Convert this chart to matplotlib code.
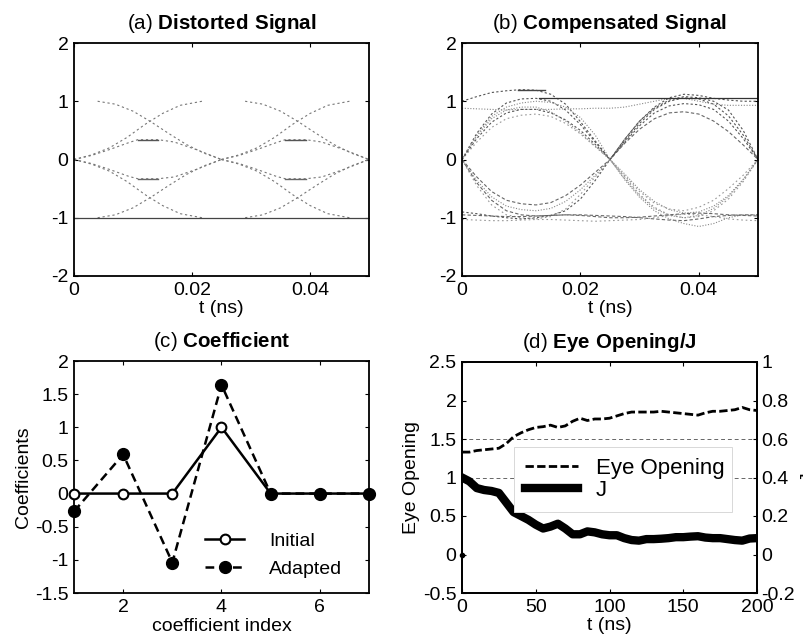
import matplotlib
matplotlib.use("Agg")
import matplotlib.pyplot as plt

plt.rcParams['font.family'] = ['Liberation Sans', 'DejaVu Sans']
plt.rcParams['mathtext.fontset'] = 'custom'
plt.rcParams['mathtext.rm'] = 'Liberation Sans'
plt.rcParams['mathtext.bf'] = 'Liberation Sans:bold'
plt.rcParams['axes.unicode_minus'] = False

# ---------------- data ----------------
# (a) distorted signal: half-period traces (repeated each symbol period)
a_period = 0.025
a_fall_t = [0.004, 0.007, 0.010, 0.013, 0.016, 0.019, 0.022, 0.025]
a_fall_hi = [1.0, 0.95, 0.83, 0.65, 0.45, 0.26, 0.11, 0.0]
a_fall_lo = [-1.0, -0.95, -0.83, -0.65, -0.45, -0.26, -0.11, 0.0]
a_rise_t = [0.0, 0.003, 0.006, 0.009, 0.012, 0.015, 0.018, 0.0217]
a_rise_hi = [0.0, 0.08, 0.20, 0.38, 0.60, 0.79, 0.93, 1.0]
a_rise_lo = [0.0, -0.08, -0.20, -0.38, -0.60, -0.79, -0.93, -1.0]
a_mid_t = [0.0, 0.003, 0.006, 0.0093, 0.0108, 0.0143, 0.017, 0.021, 0.025]
a_mid_hi = [0.0, 0.07, 0.17, 0.29, 0.34, 0.34, 0.30, 0.16, 0.0]
a_mid_lo = [0.0, -0.07, -0.17, -0.29, -0.33, -0.33, -0.30, -0.16, 0.0]
a_dash_t = [0.0108, 0.0143]
a_dash_hi = [0.34, 0.34]
a_dash_lo = [-0.33, -0.33]
a_base_t = [0.0, 0.05]
a_base_y = [-1.0, -1.0]

# (b) compensated signal traces on a common time grid
b_t = [0.0, 0.0025, 0.005, 0.0075, 0.01, 0.0125, 0.015, 0.0175, 0.02, 0.0225,
       0.025, 0.0275, 0.03, 0.0325, 0.035, 0.0375, 0.04, 0.0425, 0.045, 0.0475, 0.05]
b_traces = [
    [0, .45, .78, .97, 1.04, 1.05, 1.0, .85, .6, .3, 0, .32, .62, .86, 1.0, 1.06, 1.04, .95, .75, .42, 0],
    [0, .40, .70, .85, .90, .90, .82, .66, .46, .23, 0, -.25, -.52, -.72, -.86, -.92, -.90, -.80, -.62, -.34, 0],
    [0, -.30, -.55, -.70, -.76, -.78, -.74, -.62, -.44, -.22, 0, .28, .52, .70, .80, .82, .78, .66, .48, .25, 0],
    [0, -.45, -.78, -.95, -1.0, -1.02, -.98, -.85, -.60, -.30, 0, -.30, -.60, -.82, -.95, -1.0, -.98, -.88, -.68, -.38, 0],
    [1.0, 1.08, 1.15, 1.18, 1.2, 1.19, 1.12, .95, .65, .32, 0, .35, .66, .90, 1.06, 1.12, 1.10, 1.05, 1.02, 1.0, 1.0],
    [.88, .87, .86, .85, .86, .86, .86, .87, .87, .88, .88, .90, .95, 1.0, 1.05, 1.05, 1.0, .95, .93, .93, .93],
    [-.95, -.96, -.97, -.98, -.98, -.97, -.96, -.95, -.95, -.96, -.97, -.98, -1.0, -1.02, -1.04, -1.05, -1.02, -.98, -.96, -.95, -.95],
    [-1.03, -1.04, -1.05, -1.05, -1.04, -1.03, -1.03, -1.04, -1.05, -1.06, -1.05, -1.04, -1.03, -1.0, -.96, -.94, -.95, -.98, -1.02, -1.04, -1.05],
    [-.90, -.93, -.97, -1.0, -1.02, -1.0, -.96, -.88, -.68, -.36, 0, .35, .66, .88, 1.02, 1.08, 1.06, 1.0, .85, .50, 0],
    [0, .42, .74, .90, .97, 1.0, .98, .90, .72, .42, 0, -.35, -.65, -.88, -1.02, -1.10, -1.15, -1.10, -1.0, -.95, -.95],
    [0, -.40, -.70, -.88, -.95, -.97, -.96, -.95, -.96, -.98, -1.0, -1.0, -.99, -.97, -.95, -.93, -.92, -.93, -.95, -.96, -.97],
    [0, .30, .55, .70, .76, .78, .74, .62, .44, .22, 0, -.28, -.55, -.75, -.85, -.88, -.82, -.70, -.50, -.27, 0],
    [0, .36, .64, .80, .86, .86, .80, .68, .50, .26, 0, .30, .58, .80, .92, .96, .94, .86, .66, .36, 0],
    [0, -.36, -.64, -.80, -.86, -.88, -.84, -.72, -.52, -.27, 0, -.33, -.62, -.84, -.96, -1.0, -.96, -.84, -.64, -.35, 0],
]
b_solid_t = [0.013, 0.05]
b_solid_y = [1.05, 1.05]
b_dash_t = [0.0095, 0.014]
b_dash_y = [1.2, 1.2]

# (c) coefficients
c_index = [1, 2, 3, 4, 5, 6, 7]
c_initial = [0, 0, 0, 1, 0, 0, 0]
c_adapted = [-0.27, 0.59, -1.04, 1.64, 0, 0, 0]

# (d) eye opening / J
d_t = [0, 5, 10, 15, 20, 25, 30, 35, 40, 45, 50, 55, 60, 65, 70, 75, 80, 85, 90, 95, 100,
       105, 110, 115, 120, 125, 130, 135, 140, 145, 150, 155, 160, 165, 170, 175, 180,
       185, 190, 195, 200]
d_eye = [1.33, 1.33, 1.35, 1.36, 1.37, 1.38, 1.44, 1.53, 1.58, 1.62, 1.65, 1.66, 1.68,
         1.65, 1.67, 1.73, 1.77, 1.74, 1.76, 1.76, 1.77, 1.80, 1.83, 1.85, 1.85, 1.85,
         1.85, 1.86, 1.85, 1.84, 1.83, 1.82, 1.81, 1.84, 1.86, 1.86, 1.87, 1.88, 1.91,
         1.88, 1.87]
d_J = [0.40, 0.38, 0.345, 0.335, 0.33, 0.32, 0.27, 0.22, 0.20, 0.18, 0.155, 0.135, 0.145,
       0.16, 0.135, 0.105, 0.105, 0.12, 0.115, 0.105, 0.10, 0.10, 0.085, 0.075, 0.072,
       0.08, 0.08, 0.082, 0.085, 0.09, 0.09, 0.093, 0.095, 0.088, 0.085, 0.085, 0.08,
       0.075, 0.072, 0.083, 0.085]
d_dot_t = [0]
d_dot_y = [0]
d_ref_levels = [1.5, 1.0]

# tick labels
ab_xticks = [0, 0.02, 0.04]
ab_xticklabels = ['0', '0.02', '0.04']
ab_yticks = [-2, -1, 0, 1, 2]
ab_yticklabels = ['-2', '-1', '0', '1', '2']
c_xticks = [2, 4, 6]
c_yticks = [-1.5, -1, -0.5, 0, 0.5, 1, 1.5, 2]
c_yticklabels = ['-1.5', '-1', '-0.5', '0', '0.5', '1', '1.5', '2']
d_xticks = [0, 50, 100, 150, 200]
d_yticks = [-0.5, 0, 0.5, 1, 1.5, 2, 2.5]
d_yticklabels = ['-0.5', '0', '0.5', '1', '1.5', '2', '2.5']
d_y2ticks = [-0.2, 0, 0.2, 0.4, 0.6, 0.8, 1.0]
d_y2ticklabels = ['-0.2', '0', '0.2', '0.4', '0.6', '0.8', '1']

# ---------------- figure ----------------
W, H = 804, 641
fig = plt.figure(figsize=(W / 100, H / 100), dpi=100)

def px_axes(l, r, t, b):
    return fig.add_axes([l / W, (H - b) / H, (r - l) / W, (b - t) / H])

FS = 14

def style(ax):
    for s in ax.spines.values():
        s.set_linewidth(1.3)
    ax.tick_params(direction='in', length=3, width=0.8, labelsize=FS,
                   top=True, right=True, pad=4)

def title(ax, tag, name):
    ax.set_title(tag + r' $\bf{' + name.replace(' ', r'\ ') + '}$', fontsize=FS + 0.8, pad=10)

# (a)
axa = px_axes(74, 369, 43, 276)
style(axa)
for off in [0.0, a_period]:
    for tt, yy in [(a_fall_t, a_fall_hi), (a_fall_t, a_fall_lo), (a_rise_t, a_rise_hi),
                   (a_rise_t, a_rise_lo), (a_mid_t, a_mid_hi), (a_mid_t, a_mid_lo)]:
        axa.plot([v + off for v in tt], yy, color='#777777', lw=0.8, ls=(0, (2, 2.5)))
    axa.plot([v + off for v in a_dash_t], a_dash_hi, color='#555555', lw=1.0)
    axa.plot([v + off for v in a_dash_t], a_dash_lo, color='#666666', lw=1.0)
axa.plot(a_base_t, a_base_y, color='#444444', lw=0.9)
axa.set_xlim(0, 0.05)
axa.set_ylim(-2, 2)
axa.set_xticks(ab_xticks)
axa.set_xticklabels(ab_xticklabels)
axa.set_yticks(ab_yticks)
axa.set_yticklabels(ab_yticklabels)
axa.set_xlabel('t (ns)', fontsize=FS, labelpad=1)
title(axa, '(a)', 'Distorted Signal')

# (b)
axb = px_axes(462, 758, 43, 276)
style(axb)
b_styles = [(0, (2, 2)), (0, (1, 1.5)), (0, (3, 2)), (0, (1.5, 2.5))]
b_colors = ['#555555', '#888888', '#666666', '#999999']
for i, tr in enumerate(b_traces):
    axb.plot(b_t, tr, color=b_colors[i % 4], lw=0.8, ls=b_styles[i % 4])
axb.plot(b_solid_t, b_solid_y, color='#333333', lw=0.9)
axb.plot(b_dash_t, b_dash_y, color='#444444', lw=1.0)
axb.set_xlim(0, 0.05)
axb.set_ylim(-2, 2)
axb.set_xticks(ab_xticks)
axb.set_xticklabels(ab_xticklabels)
axb.set_yticks(ab_yticks)
axb.set_yticklabels(ab_yticklabels)
axb.set_xlabel('t (ns)', fontsize=FS, labelpad=1)
title(axb, '(b)', 'Compensated Signal')

# (c)
axc = px_axes(74, 369, 361, 593)
style(axc)
axc.plot(c_index, c_initial, color='black', lw=1.8, marker='o', ms=7,
         mfc='white', mec='black', mew=1.5, label='Initial', clip_on=False, zorder=3)
axc.plot(c_index, c_adapted, color='black', lw=1.8, ls=(0, (3.5, 2)), marker='o', ms=8.5,
         mfc='black', mec='black', label='Adapted', clip_on=False, zorder=4)
axc.set_xlim(1, 7)
axc.set_ylim(-1.5, 2)
axc.set_xticks(c_xticks)
axc.set_yticks(c_yticks)
axc.set_yticklabels(c_yticklabels)
axc.set_xlabel('coefficient index', fontsize=FS, labelpad=2)
axc.set_ylabel('Coefficients', fontsize=FS, labelpad=2)
axc.legend(loc='lower left', bbox_to_anchor=(0.385, -0.01), frameon=False, fontsize=FS,
           handlelength=2.0, labelspacing=0.55, handletextpad=1.3)
title(axc, '(c)', 'Coefficient')

# (d)
axd = px_axes(462, 757, 362, 593)
style(axd)
axd.tick_params(right=False)
for lv in d_ref_levels:
    axd.axhline(lv, color='#666666', lw=0.7, ls=(0, (4, 3)), zorder=1)
l_eye, = axd.plot(d_t, d_eye, color='black', lw=2.0, ls=(0, (3, 1.2)), label='Eye Opening', zorder=3)
axd.plot(d_dot_t, d_dot_y, 'o', color='black', ms=3, clip_on=False)
axd.set_xlim(0, 200)
axd.set_ylim(-0.5, 2.5)
axd.set_xticks(d_xticks)
axd.set_yticks(d_yticks)
axd.set_yticklabels(d_yticklabels)
axd.set_xlabel('t (ns)', fontsize=FS, labelpad=1)
axd.set_ylabel('Eye Opening', fontsize=FS, labelpad=2)
axd2 = axd.twinx()
for s in axd2.spines.values():
    s.set_linewidth(1.3)
l_J, = axd2.plot(d_t, d_J, color='black', lw=6, label='J', solid_joinstyle='round')
axd2.set_ylim(-0.2, 1.0)
axd2.set_yticks(d_y2ticks)
axd2.set_yticklabels(d_y2ticklabels)
axd2.tick_params(direction='in', length=3, width=0.8, labelsize=FS, pad=3)
axd2.set_ylabel('J', fontsize=FS, labelpad=4)
leg = axd2.legend([l_eye, l_J], ['Eye Opening', 'J'], loc='lower left',
                  bbox_to_anchor=(0.175, 0.35, 0.74, 0.295), mode='expand',
                  fontsize=FS + 2, handlelength=2.4, borderaxespad=0, fancybox=False,
                  framealpha=1, edgecolor='#d8d8d8', labelspacing=0.05, borderpad=0.5)
leg.get_frame().set_linewidth(0.7)
title(axd, '(d)', 'Eye Opening/J')

fig.savefig('out.png', dpi=100)
